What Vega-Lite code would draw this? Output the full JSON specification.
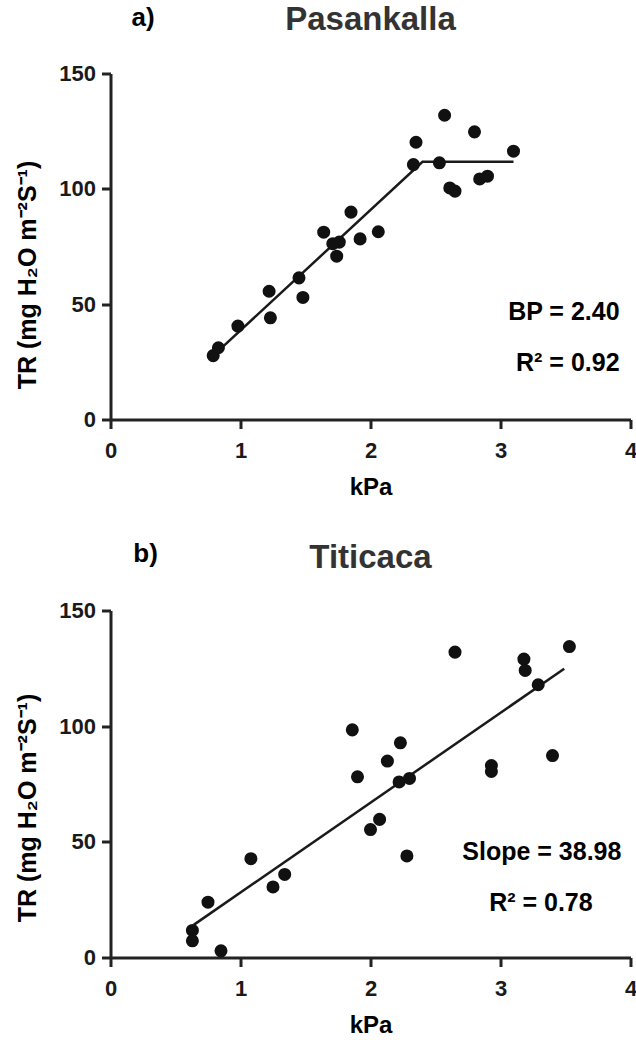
{
  "$schema": "https://vega.github.io/schema/vega-lite/v6.json",
  "background": "white",
  "padding": {"left": 15.5, "top": 3.5, "right": 0, "bottom": 0},
  "bounds": "flush",
  "spacing": 191,
  "config": {
    "font": "Liberation Sans",
    "view": {"stroke": null},
    "axis": {
      "grid": false,
      "domainColor": "#222",
      "domainWidth": 3,
      "tickColor": "#222",
      "tickWidth": 3,
      "tickSize": 9,
      "labelFont": "Liberation Sans",
      "labelFontSize": 22,
      "labelFontWeight": "bold",
      "labelColor": "#1a1a1a",
      "titleFont": "Liberation Sans",
      "titleFontSize": 24,
      "titleFontWeight": "bold",
      "titleColor": "#000"
    },
    "axisX": {"labelPadding": 12, "titlePadding": 14, "labelFlush": false},
    "axisY": {"labelPadding": 6, "titlePadding": 18, "titleFontSize": 25}
  },
  "datasets": {
    "pasPts": [
      {"kPa": 0.79, "TR": 27.7}, {"kPa": 0.83, "TR": 31.1}, {"kPa": 0.98, "TR": 40.5},
      {"kPa": 1.22, "TR": 55.6}, {"kPa": 1.23, "TR": 44.1}, {"kPa": 1.45, "TR": 61.4},
      {"kPa": 1.48, "TR": 52.9}, {"kPa": 1.64, "TR": 81.2}, {"kPa": 1.71, "TR": 76.2},
      {"kPa": 1.76, "TR": 76.9}, {"kPa": 1.74, "TR": 70.8}, {"kPa": 1.85, "TR": 89.9},
      {"kPa": 1.92, "TR": 78.3}, {"kPa": 2.06, "TR": 81.4}, {"kPa": 2.33, "TR": 110.5},
      {"kPa": 2.35, "TR": 120.2}, {"kPa": 2.53, "TR": 111.3}, {"kPa": 2.57, "TR": 131.9},
      {"kPa": 2.61, "TR": 100.4}, {"kPa": 2.65, "TR": 99.0}, {"kPa": 2.80, "TR": 124.7},
      {"kPa": 2.84, "TR": 104.3}, {"kPa": 2.90, "TR": 105.5}, {"kPa": 3.10, "TR": 116.3}
    ],
    "pasFit": [
      {"kPa": 0.79, "TR": 27.7}, {"kPa": 2.40, "TR": 111.7}, {"kPa": 3.10, "TR": 111.7}
    ],
    "pasText": [
      {"kPa": 3.916, "TR": 46.8, "label": "BP = 2.40"},
      {"kPa": 3.916, "TR": 24.3, "label": "R² = 0.92"}
    ],
    "pasHead": [
      {"kPa": 0.25, "TR": 170.8, "label": "a)", "kind": "tag"},
      {"kPa": 2.0, "TR": 168.8, "label": "Pasankalla", "kind": "title"}
    ],
    "titPts": [
      {"kPa": 0.63, "TR": 11.7}, {"kPa": 0.63, "TR": 7.2}, {"kPa": 0.85, "TR": 2.9},
      {"kPa": 0.75, "TR": 23.9}, {"kPa": 1.08, "TR": 42.7}, {"kPa": 1.25, "TR": 30.5},
      {"kPa": 1.34, "TR": 35.9}, {"kPa": 1.86, "TR": 98.4}, {"kPa": 1.90, "TR": 78.1},
      {"kPa": 2.00, "TR": 55.3}, {"kPa": 2.07, "TR": 59.7}, {"kPa": 2.13, "TR": 84.9},
      {"kPa": 2.23, "TR": 92.8}, {"kPa": 2.22, "TR": 75.9}, {"kPa": 2.30, "TR": 77.4},
      {"kPa": 2.28, "TR": 43.9}, {"kPa": 2.65, "TR": 132.0}, {"kPa": 2.93, "TR": 83.0},
      {"kPa": 2.93, "TR": 80.4}, {"kPa": 3.18, "TR": 129.0}, {"kPa": 3.19, "TR": 124.1},
      {"kPa": 3.29, "TR": 117.9}, {"kPa": 3.40, "TR": 87.3}, {"kPa": 3.53, "TR": 134.4}
    ],
    "titFit": [
      {"kPa": 0.64, "TR": 14.1}, {"kPa": 3.49, "TR": 124.8}
    ],
    "titText": [
      {"kPa": 3.93, "TR": 45.8, "label": "Slope = 38.98"},
      {"kPa": 3.709, "TR": 23.7, "label": "R² = 0.78"}
    ],
    "titHead": [
      {"kPa": 0.27, "TR": 171.1, "label": "b)", "kind": "tag"},
      {"kPa": 2.0, "TR": 168.5, "label": "Titicaca", "kind": "title"}
    ]
  },
  "vconcat": [
    {
      "width": 520,
      "height": 346,
      "encoding": {
        "x": {"field": "kPa", "type": "quantitative", "scale": {"domain": [0, 4], "nice": false}, "axis": {"values": [0, 1, 2, 3, 4], "title": "kPa"}},
        "y": {"field": "TR", "type": "quantitative", "scale": {"domain": [0, 150], "nice": false}, "axis": {"values": [0, 50, 100, 150], "title": "TR (mg H₂O m⁻²S⁻¹)", "titleY": 201}}
      },
      "layer": [
        {"data": {"name": "pasFit"}, "mark": {"type": "line", "color": "#1a1a1a", "strokeWidth": 2.5}},
        {"data": {"name": "pasPts"}, "mark": {"type": "point", "filled": true, "color": "#111", "opacity": 1, "size": 170}},
        {"data": {"name": "pasText"}, "mark": {"type": "text", "align": "right", "baseline": "middle", "fontSize": 25, "fontWeight": "bold", "color": "#000"}, "encoding": {"text": {"field": "label"}}},
        {"data": {"name": "pasHead"}, "transform": [{"filter": "datum.kind === 'tag'"}], "mark": {"type": "text", "align": "center", "baseline": "alphabetic", "fontSize": 26, "fontWeight": "bold", "color": "#000", "clip": false}, "encoding": {"text": {"field": "label"}}},
        {"data": {"name": "pasHead"}, "transform": [{"filter": "datum.kind === 'title'"}], "mark": {"type": "text", "align": "center", "baseline": "alphabetic", "fontSize": 33, "fontWeight": "bold", "color": "#333", "clip": false}, "encoding": {"text": {"field": "label"}}}
      ]
    },
    {
      "width": 520,
      "height": 347,
      "encoding": {
        "x": {"field": "kPa", "type": "quantitative", "scale": {"domain": [0, 4], "nice": false}, "axis": {"values": [0, 1, 2, 3, 4], "title": "kPa"}},
        "y": {"field": "TR", "type": "quantitative", "scale": {"domain": [0, 150], "nice": false}, "axis": {"values": [0, 50, 100, 150], "title": "TR (mg H₂O m⁻²S⁻¹)", "titleY": 197}}
      },
      "layer": [
        {"data": {"name": "titFit"}, "mark": {"type": "line", "color": "#1a1a1a", "strokeWidth": 2.5}},
        {"data": {"name": "titPts"}, "mark": {"type": "point", "filled": true, "color": "#111", "opacity": 1, "size": 170}},
        {"data": {"name": "titText"}, "mark": {"type": "text", "align": "right", "baseline": "middle", "fontSize": 25, "fontWeight": "bold", "color": "#000"}, "encoding": {"text": {"field": "label"}}},
        {"data": {"name": "titHead"}, "transform": [{"filter": "datum.kind === 'tag'"}], "mark": {"type": "text", "align": "center", "baseline": "alphabetic", "fontSize": 26, "fontWeight": "bold", "color": "#000", "clip": false}, "encoding": {"text": {"field": "label"}}},
        {"data": {"name": "titHead"}, "transform": [{"filter": "datum.kind === 'title'"}], "mark": {"type": "text", "align": "center", "baseline": "alphabetic", "fontSize": 33, "fontWeight": "bold", "color": "#333", "clip": false}, "encoding": {"text": {"field": "label"}}}
      ]
    }
  ]
}
